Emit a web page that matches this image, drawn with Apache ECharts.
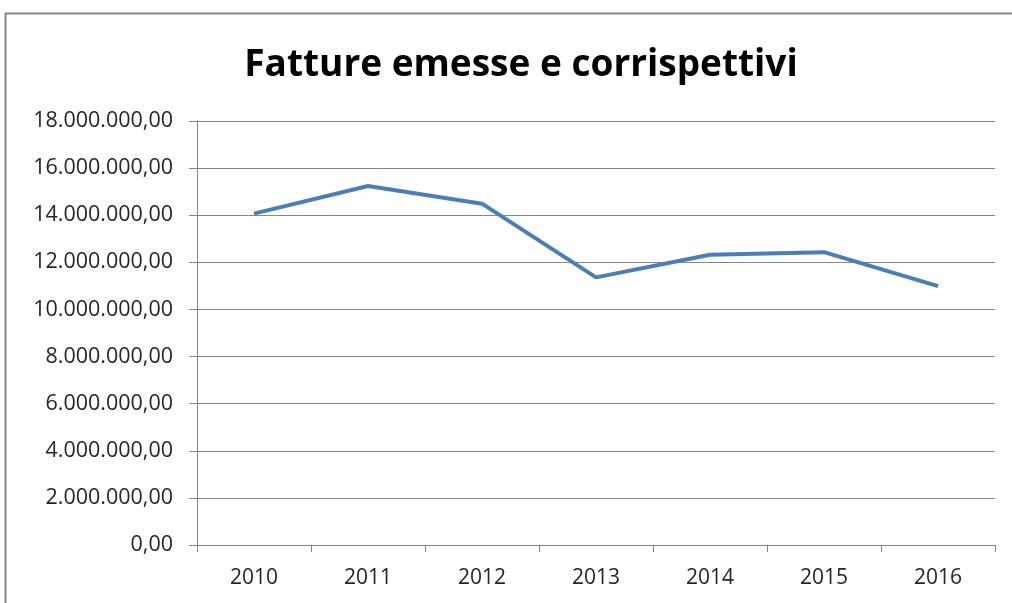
<!DOCTYPE html>
<html>
<head>
    <meta charset="utf-8">
    <script src="https://cdn.jsdelivr.net/npm/echarts@6/dist/echarts.min.js"></script>
    <style>
        html, body { margin: 0; padding: 0; background: #ffffff; }
        #chart { width: 1012px; height: 603px; }
    </style>
</head>
<body>
    <div id="chart"></div>
    <script>
        // dati
        var anni = ['2010', '2011', '2012', '2013', '2014', '2015', '2016'];
        var importi = [14070000, 15240000, 14490000, 11360000, 12320000, 12430000, 10990000];
        var titolo = 'Fatture emesse e corrispettivi';

        function formatIt(v) {
            var s = Math.round(v).toString().replace(/\B(?=(\d{3})+(?!\d))/g, '.');
            return s + ',00';
        }

        var chart = echarts.init(document.getElementById('chart'));

        var option = {
            animation: false,
            graphic: [{
                type: 'rect',
                shape: { x: 5.5, y: 13.5, width: 1100, height: 700 },
                style: { fill: 'none', stroke: '#868686', lineWidth: 2 },
                silent: true
            }],
            title: {
                text: titolo,
                left: 516,
                textAlign: 'center',
                top: 42,
                textStyle: {
                    fontFamily: 'Open Sans',
                    fontWeight: 'bold',
                    fontSize: 37,
                    color: '#000000'
                }
            },
            grid: {
                left: 197,
                right: 17,
                top: 121,
                bottom: 58,
                containLabel: false
            },
            xAxis: {
                type: 'category',
                data: anni,
                boundaryGap: true,
                axisLine: { lineStyle: { color: '#868686', width: 1 } },
                axisTick: { show: true, length: 7, lineStyle: { color: '#868686' } },
                axisLabel: {
                    margin: 23,
                    color: '#262626',
                    fontFamily: 'Open Sans',
                    fontSize: 21
                }
            },
            yAxis: {
                type: 'value',
                min: 0,
                max: 18000000,
                interval: 2000000,
                axisLine: { show: true, lineStyle: { color: '#868686', width: 1 } },
                axisTick: { show: true, length: 8, lineStyle: { color: '#868686' } },
                splitLine: { lineStyle: { color: '#868686', width: 1 } },
                axisLabel: {
                    margin: 24,
                    color: '#262626',
                    fontFamily: 'Open Sans',
                    fontSize: 21.5,
                    formatter: formatIt
                }
            },
            series: [{
                type: 'line',
                data: importi,
                symbol: 'none',
                lineStyle: { color: '#4a7ebb', width: 4 }
            }]
        };

        chart.setOption(option);
    </script>
</body>
</html>
